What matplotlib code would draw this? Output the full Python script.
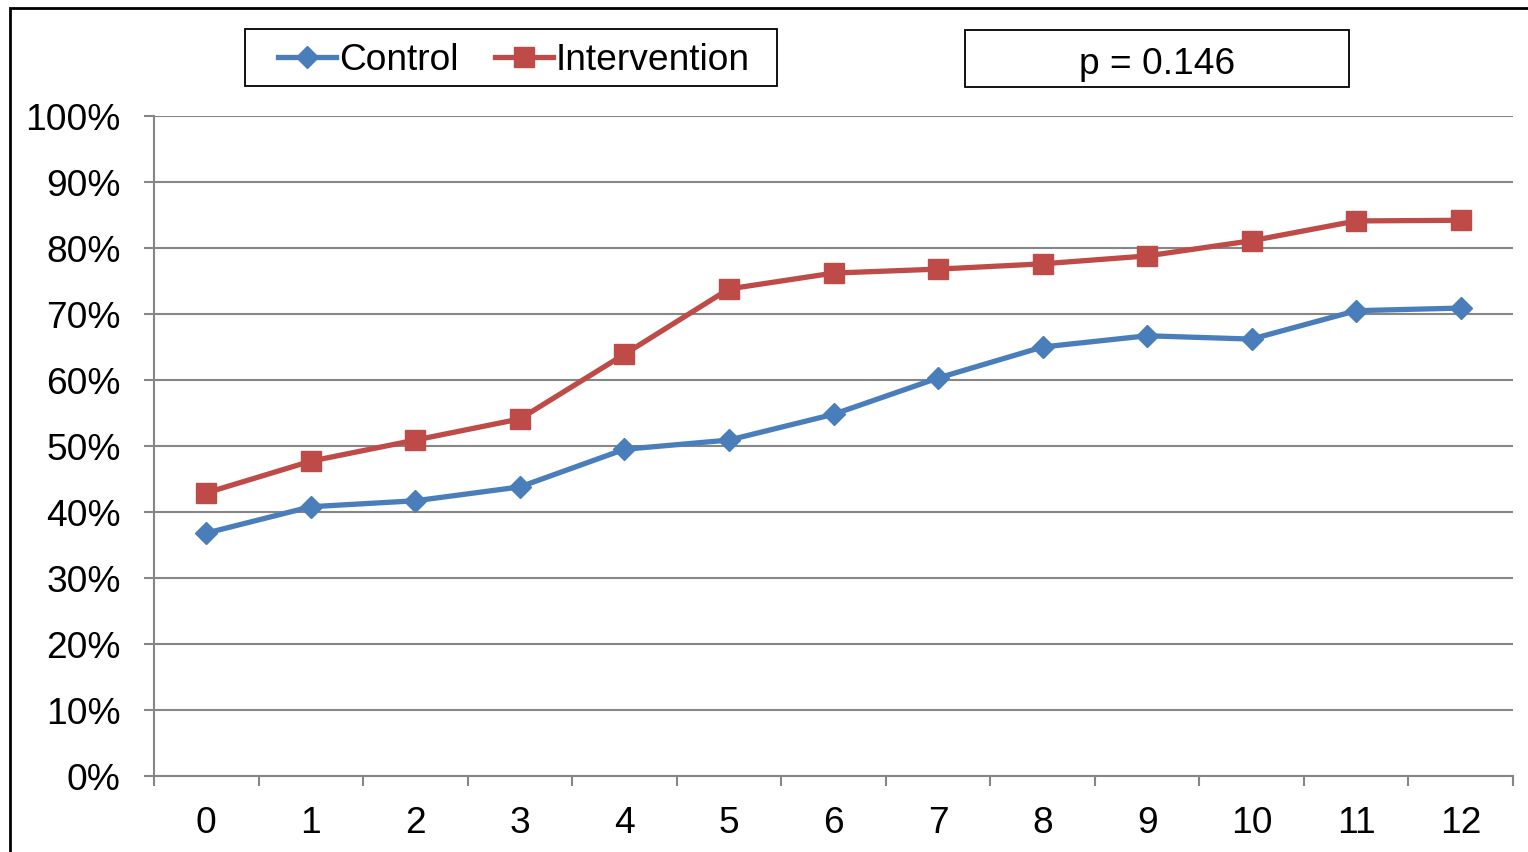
import matplotlib

matplotlib.use('Agg')

import matplotlib.pyplot as plt
from matplotlib.patches import Rectangle
from matplotlib.ticker import FixedLocator, PercentFormatter

plt.rcParams['font.family'] = ['Liberation Sans', 'DejaVu Sans']

months = list(range(13))
control = [36.8, 40.8, 41.7, 43.8, 49.5, 50.9, 54.8, 60.3, 65.0, 66.7, 66.2, 70.5, 70.9]
intervention = [42.9, 47.7, 50.9, 54.1, 63.9, 73.8, 76.2, 76.8, 77.6, 78.8, 81.1, 84.1, 84.2]
series_names = ['Control', 'Intervention']
p_text = 'p = 0.146'

W, H = 1528, 853
fs = 26.7
fig = plt.figure(figsize=(W / 100, H / 100), dpi=100)
ax = fig.add_axes([154 / W, 1 - 777 / H, (1513 - 154) / W, (777 - 117) / H])

grid_c = '#868686'
ax.plot(months, control, color='#4A7EBB', lw=3.8, marker='D', ms=10.8,
        label=series_names[0], zorder=3)
ax.plot(months, intervention, color='#BE4B48', lw=3.8, marker='s', ms=14.4,
        label=series_names[1], zorder=3)

ax.set_xlim(-0.5, 12.5)
ax.set_ylim(0, 100)
ax.set_yticks(range(0, 101, 10))
ax.yaxis.set_major_formatter(PercentFormatter(decimals=0))
ax.set_xticks(months)
ax.xaxis.set_minor_locator(FixedLocator([i - 0.5 for i in range(14)]))
ax.grid(axis='y', color=grid_c, lw=1.5)
ax.set_axisbelow(True)

for s in ['top', 'right']:
    ax.spines[s].set_visible(False)
for s in ['left', 'bottom']:
    ax.spines[s].set_color(grid_c)
    ax.spines[s].set_linewidth(1.5)

ax.tick_params(axis='y', which='major', length=7, width=1.5, color=grid_c,
               labelsize=fs, pad=17)
ax.tick_params(axis='x', which='major', length=0, labelsize=fs, pad=21)
ax.tick_params(axis='x', which='minor', length=7, width=1.5, color=grid_c)

leg = ax.legend(loc='center', bbox_to_anchor=(514 / W, 1 - 61 / H),
                bbox_transform=fig.transFigure, ncol=2, fontsize=fs,
                frameon=False, handlelength=1.55, handletextpad=0.08,
                columnspacing=1.0, borderpad=0, borderaxespad=0)

# legend frame
fig.patches.append(Rectangle((245 / W, 1 - 87 / H), (777 - 245) / W, (87 - 30) / H,
                             transform=fig.transFigure, fill=False,
                             edgecolor='black', lw=1.3))

# p-value box
fig.patches.append(Rectangle((965 / W, 1 - 88 / H), (1349 - 965) / W, (88 - 31) / H,
                             transform=fig.transFigure, fill=False,
                             edgecolor='black', lw=1.3))
fig.text(1157 / W, 1 - 64.5 / H, p_text, ha='center', va='center', fontsize=fs)

# outer chart border
fig.patches.append(Rectangle((10 / W, -0.05), 1.0, 1.05 - 9 / H,
                             transform=fig.transFigure, fill=False,
                             edgecolor='black', lw=2))

fig.savefig('out.png', dpi=100)
